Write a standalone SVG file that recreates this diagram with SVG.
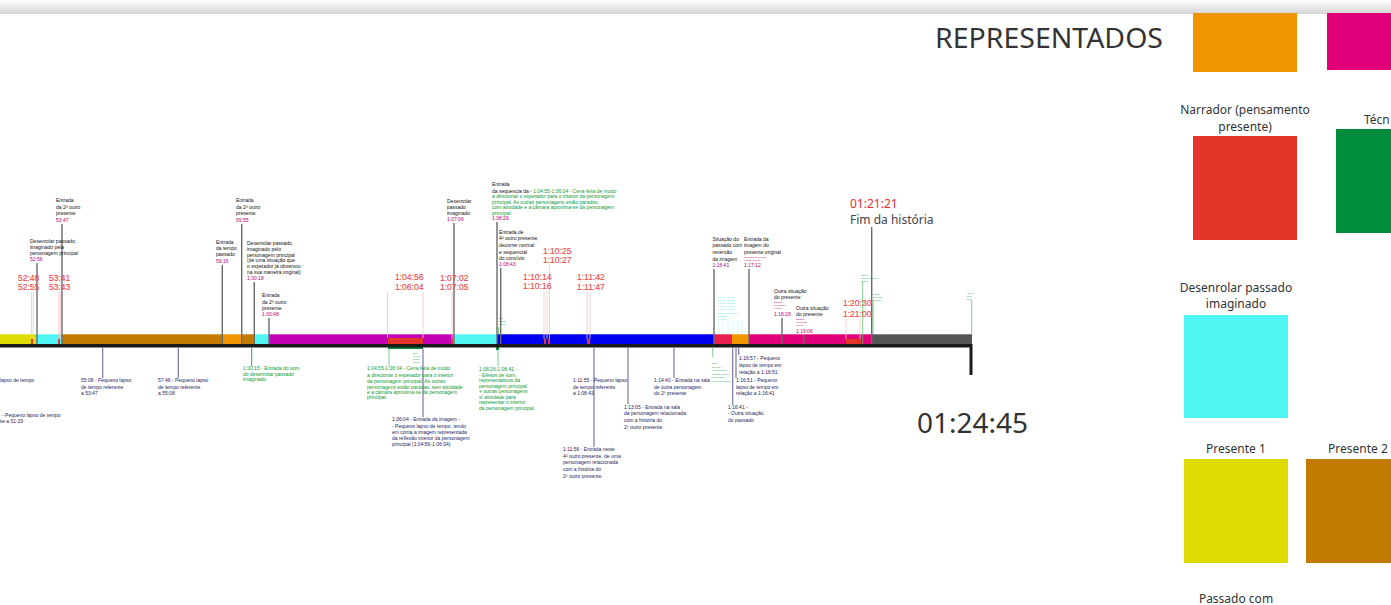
<svg xmlns="http://www.w3.org/2000/svg" width="1391" height="605" viewBox="0 0 1391 605">
<defs>
<linearGradient id="topshade" x1="0" y1="0" x2="0" y2="1">
<stop offset="0" stop-color="#ffffff"/>
<stop offset="1" stop-color="#d4d4d4"/>
</linearGradient>
<style>
.s{font-family:"Liberation Sans",Arial,sans-serif;font-size:5px;fill:#111}
.m{fill:#b5006e}
.g{fill:#0b9a35}
.n{fill:#1e1e5e}
.cy{fill:#3ee8e6}
.tiny{font-size:2.2px}
.r{font-family:"Liberation Sans",Arial,sans-serif;font-size:8.5px;fill:#f04a4a;stroke:#f04a4a;stroke-width:0.15px}
.L{font-family:"Noto Sans","Open Sans",sans-serif;font-size:12px;fill:#333;text-anchor:middle}
.cg{stroke:#6a6a6a;stroke-width:1.4;fill:none}
.cn{stroke:#7878a0;stroke-width:1.2;fill:none}
.cp{stroke:#f6c4c4;stroke-width:0.8;fill:none}
.cgr{stroke:#5cc070;stroke-width:0.8;fill:none}
.cc{stroke:#a8f8f6;stroke-width:0.6;fill:none}
</style>
</defs>
<rect x="0" y="0" width="1391" height="605" fill="#ffffff"/>
<rect x="0" y="0" width="1391" height="14" fill="url(#topshade)"/>

<!-- Legend -->
<g id="legend">
<text x="935" y="48" font-family="Noto Sans, Open Sans, sans-serif" font-size="27" fill="#333" textLength="228" lengthAdjust="spacingAndGlyphs">REPRESENTADOS</text>
<rect x="1193" y="13" width="104" height="59" fill="#f09400"/>
<rect x="1327" y="13" width="64" height="57" fill="#e2007a"/>
<text class="L" x="1245" y="114">Narrador (pensamento</text>
<text class="L" x="1245" y="131">presente)</text>
<rect x="1193" y="136" width="104" height="104" fill="#e4352a"/>
<text class="L" x="1364" y="124" style="text-anchor:start">Técn</text>
<rect x="1336" y="129" width="55" height="104" fill="#008c3a"/>
<text class="L" x="1236" y="292">Desenrolar passado</text>
<text class="L" x="1236" y="308">imaginado</text>
<rect x="1184" y="315" width="104" height="103" fill="#4ef5f2"/>
<text class="L" x="1236" y="453">Presente 1</text>
<rect x="1184" y="459" width="104" height="104" fill="#dfdb00"/>
<text class="L" x="1358" y="453">Presente 2</text>
<rect x="1306" y="459" width="85" height="104" fill="#c27a00"/>
<text class="L" x="1236" y="603">Passado com</text>
</g>

<!-- Timeline bar -->
<g id="timeline">
<rect x="0" y="334" width="36" height="11" fill="#dfdb00"/>
<rect x="36" y="334" width="26" height="11" fill="#4ef5f2"/>
<rect x="62" y="334" width="160" height="11" fill="#c27a00"/>
<rect x="222" y="334" width="20" height="11" fill="#f09400"/>
<rect x="242" y="334" width="12" height="11" fill="#c27a00"/>
<rect x="254" y="334" width="15" height="11" fill="#4ef5f2"/>
<rect x="269" y="334" width="184" height="11" fill="#c300b4"/>
<rect x="453" y="334" width="44" height="11" fill="#4ef5f2"/>
<rect x="497" y="334" width="217" height="11" fill="#0000f0"/>
<rect x="714" y="334" width="18" height="11" fill="#e81e4e"/>
<rect x="732" y="334" width="17" height="11" fill="#f09400"/>
<rect x="749" y="334" width="123" height="11" fill="#e2007a"/>
<rect x="872" y="334" width="100" height="11" fill="#555555"/>
<rect x="0" y="334" width="972" height="0.8" fill="#ffffff" opacity="0.35"/>
<rect x="31" y="339" width="2" height="5" fill="#e4352a"/>
<rect x="58" y="339" width="2" height="5" fill="#e4352a"/>
<rect x="388" y="338" width="35" height="7" fill="#e4352a"/>
<rect x="388" y="345" width="35" height="4" fill="#008c3a"/>
<rect x="451" y="339" width="2" height="5" fill="#e4352a"/>
<rect x="544" y="339" width="2" height="5" fill="#e4352a"/>
<rect x="548" y="339" width="2" height="5" fill="#e4352a"/>
<rect x="587" y="339" width="3" height="5" fill="#e4352a"/>
<rect x="846" y="339" width="15" height="6" fill="#e4352a"/>
<rect x="496" y="344" width="3" height="6" fill="#008c3a"/>
<rect x="0" y="344" width="972" height="3.5" fill="#1a1a1a"/>
<rect x="969.5" y="344" width="3" height="31" fill="#1a1a1a"/>
</g>

<!-- Connectors -->
<g id="connectors">
<line class="cg" x1="62" y1="224" x2="62" y2="344"/>
<line class="cg" x1="37" y1="263" x2="37" y2="344"/>
<line class="cg" x1="222.3" y1="265" x2="222.3" y2="344"/>
<line class="cg" x1="241.7" y1="224" x2="241.7" y2="344"/>
<line class="cg" x1="254.3" y1="282" x2="254.3" y2="344"/>
<line class="cg" x1="269" y1="318" x2="269" y2="344"/>
<line class="cg" x1="454" y1="223" x2="454" y2="344"/>
<line class="cg" x1="497" y1="222" x2="497" y2="344"/>
<line class="cg" x1="500.7" y1="268" x2="500.7" y2="344"/>
<line class="cg" x1="714" y1="269" x2="714" y2="344"/>
<line class="cg" x1="749" y1="269" x2="749" y2="344"/>
<line class="cg" x1="782" y1="318" x2="782" y2="344"/>
<line class="cg" x1="804" y1="335" x2="804" y2="344"/>
<line class="cg" x1="871.7" y1="227" x2="871.7" y2="344"/>
<line class="cp" x1="31.5" y1="292" x2="31.5" y2="339"/>
<line class="cp" x1="33.3" y1="292" x2="33.3" y2="339"/>
<line class="cp" x1="58.7" y1="292" x2="58.7" y2="339"/>
<line class="cp" x1="60.3" y1="292" x2="60.3" y2="339"/>
<line class="cp" x1="387.5" y1="292" x2="387.5" y2="338"/>
<line class="cp" x1="423" y1="292" x2="423" y2="338"/>
<line class="cp" x1="452" y1="292" x2="452" y2="339"/>
<line class="cp" x1="544" y1="291" x2="544" y2="339"/>
<line class="cp" x1="547" y1="291" x2="547" y2="339"/>
<line class="cp" x1="549.5" y1="265" x2="549.5" y2="339"/>
<line class="cp" x1="587" y1="292" x2="587" y2="339"/>
<line class="cp" x1="590" y1="292" x2="590" y2="339"/>
<line class="cp" x1="846" y1="319" x2="846" y2="339"/>
<line class="cp" x1="860" y1="319" x2="860" y2="339"/>
<line class="cgr" x1="498.5" y1="327" x2="498.5" y2="334"/>
<line class="cgr" x1="862.7" y1="282" x2="862.7" y2="344"/>
<line class="cgr" x1="873" y1="300" x2="873" y2="334"/>
<line class="cgr" x1="971.7" y1="300" x2="971.7" y2="334"/>
<line class="cc" x1="719" y1="321" x2="719" y2="334"/>
<line class="cc" x1="723" y1="321" x2="723" y2="334"/>
<line class="cc" x1="728" y1="321" x2="728" y2="334"/>
<line class="cc" x1="733" y1="321" x2="733" y2="334"/>
<line class="cc" x1="738" y1="321" x2="738" y2="334"/>
<line class="cc" x1="742" y1="321" x2="742" y2="334"/>
<line class="cn" x1="102.7" y1="347" x2="102.7" y2="378"/>
<line class="cn" x1="178.3" y1="347" x2="178.3" y2="378"/>
<line class="cn" x1="423" y1="349" x2="423" y2="417"/>
<line class="cn" x1="594" y1="347" x2="594" y2="447"/>
<line class="cn" x1="628" y1="347" x2="628" y2="404"/>
<line class="cn" x1="674" y1="347" x2="674" y2="378"/>
<line class="cn" x1="732.7" y1="347" x2="732.7" y2="405"/>
<line class="cn" x1="736" y1="347" x2="736" y2="378"/>
<line class="cn" x1="738.7" y1="347" x2="738.7" y2="355"/>
<line class="cgr" x1="251.7" y1="347" x2="251.7" y2="366" style="stroke:#2aa84a;stroke-width:1"/>
<line class="cgr" x1="389" y1="349" x2="389" y2="366"/>
<line class="cgr" x1="498" y1="350" x2="498" y2="366"/>
<line class="cgr" x1="712.7" y1="347" x2="712.7" y2="357"/>
</g>

<!-- Top annotations -->
<g id="n-5347"><text class="s"><tspan x="56" y="202">Entrada</tspan><tspan x="56" y="209">da 2ª outro</tspan><tspan x="56" y="215">presente</tspan><tspan x="56" y="222" class="m">53:47</tspan></text></g>
<g id="n-5256"><text class="s"><tspan x="30" y="243">Desenrolar passado,</tspan><tspan x="30" y="249">imaginado pela</tspan><tspan x="30" y="255">personagem principal</tspan><tspan x="30" y="261" class="m">52:56</tspan></text></g>
<g id="n-r5248"><text class="r"><tspan x="18" y="281">52:48</tspan><tspan x="18" y="290">52:55</tspan></text></g>
<g id="n-r5341"><text class="r"><tspan x="49" y="281">53:41</tspan><tspan x="49" y="290">53:43</tspan></text></g>
<g id="n-5916"><text class="s"><tspan x="216" y="244">Entrada</tspan><tspan x="216" y="250">da tempo</tspan><tspan x="216" y="256">passado</tspan><tspan x="216" y="263" class="m">59:16</tspan></text></g>
<g id="n-5955"><text class="s"><tspan x="236" y="202">Entrada</tspan><tspan x="236" y="209">da 2ª outro</tspan><tspan x="236" y="215">presente</tspan><tspan x="236" y="222" class="m">59:55</tspan></text></g>
<g id="n-10018"><text class="s"><tspan x="247" y="245">Desenrolar passado,</tspan><tspan x="247" y="251">imaginado pelo</tspan><tspan x="247" y="257">personagem principal</tspan><tspan x="247" y="262">(de uma situação que</tspan><tspan x="247" y="268">o espetador já observou</tspan><tspan x="247" y="274">na sua maneira original)</tspan><tspan x="247" y="280" class="m">1:00:18</tspan></text></g>
<g id="n-10048"><text class="s"><tspan x="262" y="297">Entrada</tspan><tspan x="262" y="304">da 2ª outro</tspan><tspan x="262" y="310">presente</tspan><tspan x="262" y="316" class="m">1:00:48</tspan></text></g>
<g id="n-r10456"><text class="r"><tspan x="395" y="280">1:04:56</tspan><tspan x="395" y="290">1:06:04</tspan></text></g>
<g id="n-r10702"><text class="r"><tspan x="440" y="281">1:07:02</tspan><tspan x="440" y="290">1:07:05</tspan></text></g>
<g id="n-10706"><text class="s"><tspan x="447" y="203">Desenrolar</tspan><tspan x="447" y="209">passado</tspan><tspan x="447" y="215">imaginado</tspan><tspan x="447" y="221" class="m">1:07:06</tspan></text></g>
<g id="n-10826"><text class="s"><tspan x="492" y="186">Entrada</tspan><tspan x="492" y="193">da sequencia da - </tspan><tspan class="g">1:04:55-1:06:04 - Cena feita de modo</tspan><tspan x="492" y="198" class="g">a direcionar o espetador para o interior da personagem</tspan><tspan x="492" y="204" class="g">principal. As outras personagens estão parados,</tspan><tspan x="492" y="209" class="g">com atividade e a câmara aproxima-se da personagem</tspan><tspan x="492" y="215" class="g">principal.</tspan><tspan x="492" y="220" class="m">1:08:26</tspan></text></g>
<g id="n-10843"><text class="s"><tspan x="499" y="234">Entrada de</tspan><tspan x="499" y="240">4ª outro presente,</tspan><tspan x="499" y="247">decorrer normal</tspan><tspan x="499" y="254">e sequencial</tspan><tspan x="499" y="260">do convívio</tspan><tspan x="499" y="266" class="m">1:08:43</tspan></text></g>
<g id="n-r11025"><text class="r"><tspan x="543" y="254">1:10:25</tspan><tspan x="543" y="263">1:10:27</tspan></text></g>
<g id="n-r11014"><text class="r"><tspan x="523" y="280">1:10:14</tspan><tspan x="523" y="289">1:10:16</tspan></text></g>
<g id="n-r11142"><text class="r"><tspan x="577" y="280">1:11:42</tspan><tspan x="577" y="290">1:11:47</tspan></text></g>
<g id="n-g10826t"><text class="s g tiny"><tspan x="498.5" y="319">Som</tspan><tspan x="498.5" y="322">1:08:26</tspan><tspan x="498.5" y="325">1:08:41</tspan></text></g>
<g id="n-11641"><text class="s"><tspan x="712.5" y="241">Situação do</tspan><tspan x="712.5" y="247">passado com</tspan><tspan x="712.5" y="254">reversão</tspan><tspan x="712.5" y="261">da imagem</tspan><tspan x="712.5" y="267" class="m">1:16:41</tspan></text></g>
<g id="n-11712"><text class="s"><tspan x="744" y="241">Entrada da</tspan><tspan x="744" y="247">imagem do</tspan><tspan x="744" y="254">presente original</tspan><tspan x="744" y="257.5" class="m tiny">Sequência do presente</tspan><tspan x="744" y="260.5" class="m tiny">original (1:17:12)</tspan><tspan x="744" y="267" class="m">1:17:12</tspan></text></g>
<g id="n-cy"><text class="s cy tiny"><tspan x="718" y="298">1:16:41 - 1:16:51</tspan><tspan x="718" y="301">1:16:51 - 1:16:57</tspan><tspan x="718" y="304">1:16:57 - 1:17:02</tspan><tspan x="718" y="307">1:17:02 - 1:17:08</tspan><tspan x="718" y="310">1:17:08 - 1:17:12</tspan><tspan x="718" y="313.5">Desenrolar passado</tspan><tspan x="718" y="316.5">imaginado</tspan><tspan x="718" y="319.5">reversão</tspan></text></g>
<g id="n-11828"><text class="s"><tspan x="774" y="293">Outra situação</tspan><tspan x="774" y="299">do presente</tspan><tspan x="774" y="303" class="m tiny">Situação</tspan><tspan x="774" y="306" class="m tiny">do presente</tspan><tspan x="774" y="309" class="m tiny">1:18:28</tspan><tspan x="774" y="316" class="m">1:18:28</tspan></text></g>
<g id="n-11906"><text class="s"><tspan x="796" y="310">Outra situação</tspan><tspan x="796" y="316">do presente</tspan><tspan x="796" y="320" class="m tiny">Situação</tspan><tspan x="796" y="323" class="m tiny">do presente</tspan><tspan x="796" y="326" class="m tiny">1:19:06</tspan><tspan x="796" y="333" class="m">1:19:06</tspan></text></g>
<g id="n-r12030"><text class="r"><tspan x="843" y="306">1:20:30</tspan><tspan x="843" y="317">1:21:00</tspan></text></g>
<g id="n-gt1"><text class="s g tiny"><tspan x="861" y="276">1:20:48</tspan><tspan x="861" y="279">Som do presente</tspan><tspan x="861" y="282">original</tspan></text></g>
<g id="n-gt2"><text class="s g tiny"><tspan x="873" y="295">1:21:21</tspan><tspan x="873" y="298">Som final</tspan><tspan x="873" y="301">créditos</tspan></text></g>
<g id="n-gt3"><text class="s g tiny"><tspan x="967" y="294">1:24:45</tspan><tspan x="967" y="297">Som</tspan><tspan x="967" y="300">final</tspan></text></g>
<g id="n-fim"><text x="850" y="208" font-family="Noto Sans, Open Sans, sans-serif" font-size="12" fill="#ee2a2a">01:21:21</text><text x="850" y="224" font-family="Noto Sans, Open Sans, sans-serif" font-size="12" fill="#444">Fim da história</text></g>
<g id="n-end"><text x="917" y="433" font-family="Noto Sans, Open Sans, sans-serif" font-size="28" fill="#333">01:24:45</text></g>

<!-- Bottom annotations -->
<g id="n-b0"><text class="s n"><tspan x="34" y="382" text-anchor="end">lapso de tempo</tspan><tspan x="2" y="417">- Pequeno lapso de tempo</tspan><tspan x="23" y="423" text-anchor="end">ente a 51:29</tspan></text></g>
<g id="n-5508"><text class="s n"><tspan x="81" y="382">55:08 - Pequeno lapso</tspan><tspan x="81" y="389">de tempo referente</tspan><tspan x="81" y="395">a 53:47</tspan></text></g>
<g id="n-5746"><text class="s n"><tspan x="158" y="382">57:46 - Pequeno lapso</tspan><tspan x="158" y="389">de tempo referente</tspan><tspan x="158" y="395">a 55:08</tspan></text></g>
<g id="n-10015"><text class="s g"><tspan x="243" y="370">1:00:15 - Entrada do som</tspan><tspan x="243" y="375.5">do desenrolar passado</tspan><tspan x="243" y="381">imaginado</tspan></text></g>
<g id="n-10455"><text class="s g"><tspan x="367" y="370">1:04:55-1:06:04 - Cena feita de modo</tspan><tspan x="367" y="377">a direcionar o espetador para o interior</tspan><tspan x="367" y="383">da personagem principal. As outras</tspan><tspan x="367" y="389">personagens estão paradas, sem atividade</tspan><tspan x="367" y="394">e a câmara aproxima-se da personagem</tspan><tspan x="367" y="399">principal.</tspan></text></g>
<g id="n-gt4"><text class="s g tiny"><tspan x="413" y="354">Som</tspan><tspan x="413" y="357">1:04:55</tspan><tspan x="413" y="360">1:06:04</tspan><tspan x="413" y="363">efeitos</tspan></text></g>
<g id="n-10604"><text class="s n"><tspan x="392" y="421">1:06:04 - Entrada da imagem -</tspan><tspan x="392" y="428">- Pequeno lapso de tempo, tendo</tspan><tspan x="392" y="434">em conta a imagem representada</tspan><tspan x="392" y="440">da reflexão interior da personagem</tspan><tspan x="392" y="446">principal (1:04:56-1:06:04)</tspan></text></g>
<g id="n-10826b"><text class="s g"><tspan x="479" y="371">1:08:26-1:08:41 -</tspan><tspan x="479" y="376.5">- Efeitos de som,</tspan><tspan x="479" y="382">representativos da</tspan><tspan x="479" y="387.5">personagem principal</tspan><tspan x="479" y="393">+ outras personagens</tspan><tspan x="479" y="398.5">s/ atividade para</tspan><tspan x="479" y="404">representar o interior</tspan><tspan x="479" y="409.5">da personagem principal</tspan></text></g>
<g id="n-11155"><text class="s n"><tspan x="573" y="382">1:11:55 - Pequeno lapso</tspan><tspan x="573" y="389">de tempo referente</tspan><tspan x="573" y="395">a 1:08:43</tspan></text></g>
<g id="n-11156"><text class="s n"><tspan x="563" y="451">1:11:56 - Entrada neste</tspan><tspan x="563" y="458">4ª outro presente, de uma</tspan><tspan x="563" y="464">personagem relacionada</tspan><tspan x="563" y="471">com a história do</tspan><tspan x="563" y="478">2º outro presente.</tspan></text></g>
<g id="n-11305"><text class="s n"><tspan x="624" y="409">1:13:05 - Entrada na sala</tspan><tspan x="624" y="415">da personagem relacionada</tspan><tspan x="624" y="422">com a história do</tspan><tspan x="624" y="429">2º outro presente.</tspan></text></g>
<g id="n-11440"><text class="s n"><tspan x="654" y="382">1:14:40 - Entrada na sala</tspan><tspan x="654" y="389">de outra personagem</tspan><tspan x="654" y="395">do 2º presente</tspan></text></g>
<g id="n-gt5"><text class="s g tiny"><tspan x="712" y="364">Som</tspan><tspan x="712" y="367.5">Reflexão</tspan><tspan x="712" y="371">da personagem</tspan><tspan x="712" y="374.5">principal (1:16:41)</tspan><tspan x="712" y="378">em reversão</tspan><tspan x="712" y="381.5">do som da imagem</tspan></text></g>
<g id="n-11657"><text class="s n"><tspan x="739" y="360">1:16:57 - Pequeno</tspan><tspan x="739" y="367">lapso de tempo em</tspan><tspan x="739" y="374">relação a 1:16:51</tspan></text></g>
<g id="n-11651"><text class="s n"><tspan x="736" y="382">1:16:51 - Pequeno</tspan><tspan x="736" y="389">lapso de tempo em</tspan><tspan x="736" y="395">relação a 1:16:41</tspan></text></g>
<g id="n-11641b"><text class="s n"><tspan x="728" y="409">1:16:41 -</tspan><tspan x="728" y="415">- Outra situação</tspan><tspan x="728" y="422">do passado</tspan></text></g>
</svg>
